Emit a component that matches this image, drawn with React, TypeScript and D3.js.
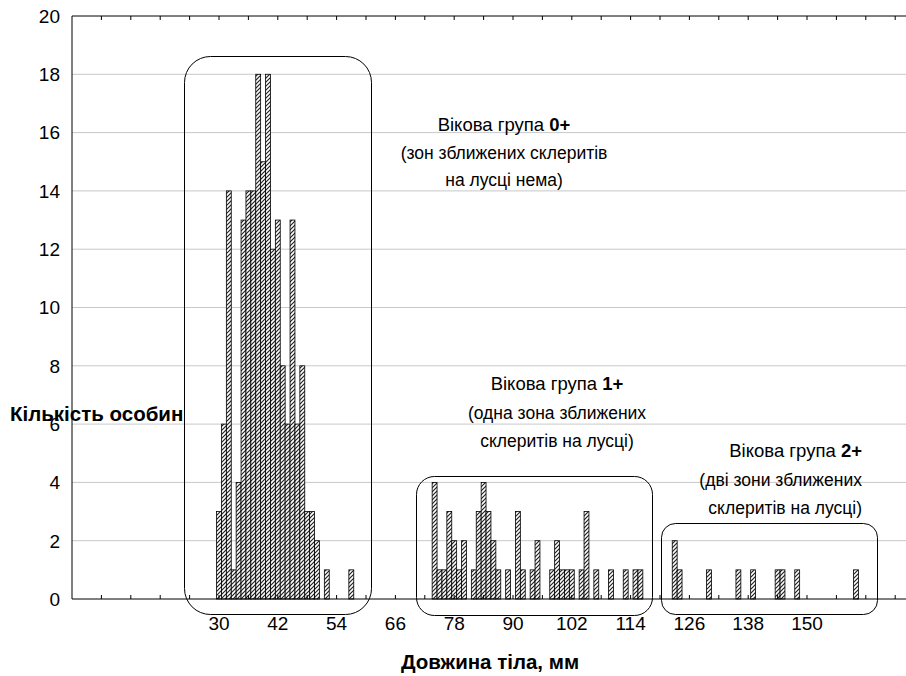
import { useEffect, useRef } from 'react';
import * as d3 from 'd3';

// body length (mm) and number of fish per 1-mm class, by age group
const age0Lengths = [30, 31, 32, 33, 34, 35, 36, 37, 38, 39, 40, 41, 42, 43, 44, 45, 46, 47, 48, 49, 50, 52, 57];
const age0Counts = [3, 6, 14, 1, 4, 13, 14, 14, 18, 15, 18, 12, 13, 8, 6, 13, 6, 8, 3, 3, 2, 1, 1];

const age1Lengths = [74, 75, 76, 77, 78, 79, 80, 82, 83, 84, 85, 86, 87, 89, 91, 92, 94, 95, 98, 99, 100, 101, 102, 104, 105, 107, 110, 113, 115, 116];
const age1Counts = [4, 1, 1, 3, 2, 1, 2, 1, 3, 4, 3, 2, 1, 1, 3, 1, 1, 2, 1, 2, 1, 1, 1, 1, 3, 1, 1, 1, 1, 1];

const age2Lengths = [123, 124, 130, 136, 139, 144, 145, 148, 160];
const age2Counts = [2, 1, 1, 1, 1, 1, 1, 1, 1];

const xTickLabels = [30, 42, 54, 66, 78, 90, 102, 114, 126, 138, 150];
const yTicks = [0, 2, 4, 6, 8, 10, 12, 14, 16, 18, 20];

const W = 906;
const H = 676;
const FONT = '"Liberation Sans", Arial, sans-serif';

export default function App() {
    const svgRef = useRef<SVGSVGElement | null>(null);

    useEffect(() => {
        if (!svgRef.current) return;
        const svg = d3.select(svgRef.current);
        svg.selectAll('*').remove();

        const x = d3.scaleLinear().domain([0, 170]).range([72, 905]);
        const y = d3.scaleLinear().domain([0, 20]).range([599, 16]);

        // hatch pattern for bars
        const defs = svg.append('defs');
        const pat = defs.append('pattern')
            .attr('id', 'hatch')
            .attr('patternUnits', 'userSpaceOnUse')
            .attr('width', 4)
            .attr('height', 4);
        pat.append('rect').attr('width', 4).attr('height', 4).attr('fill', '#fff');
        pat.append('path')
            .attr('d', 'M-1,1 L1,-1 M0,4 L4,0 M3,5 L5,3')
            .attr('stroke', '#222')
            .attr('stroke-width', 1.2);

        // gridlines
        svg.append('g')
            .selectAll('line')
            .data(yTicks.filter(d => d > 0 && d < 20))
            .join('line')
            .attr('x1', x(0))
            .attr('x2', W)
            .attr('y1', d => y(d))
            .attr('y2', d => y(d))
            .attr('stroke', '#c8c8c8')
            .attr('stroke-width', 1);

        // bars
        const bars = [
            ...age0Lengths.map((l, i) => ({ len: l, n: age0Counts[i] })),
            ...age1Lengths.map((l, i) => ({ len: l, n: age1Counts[i] })),
            ...age2Lengths.map((l, i) => ({ len: l, n: age2Counts[i] })),
        ];
        svg.append('g')
            .selectAll('rect')
            .data(bars)
            .join('rect')
            .attr('x', d => x(d.len - 0.5))
            .attr('width', d => x(d.len + 0.5) - x(d.len - 0.5))
            .attr('y', d => y(d.n))
            .attr('height', d => y(0) - y(d.n))
            .attr('fill', 'url(#hatch)')
            .attr('stroke', '#000')
            .attr('stroke-width', 0.8);

        // frame: left axis, bottom axis, top border
        const axisColor = '#000';
        svg.append('line')
            .attr('x1', x(0)).attr('x2', x(0))
            .attr('y1', y(20)).attr('y2', y(0))
            .attr('stroke', axisColor);
        svg.append('line')
            .attr('x1', x(0)).attr('x2', W)
            .attr('y1', y(0)).attr('y2', y(0))
            .attr('stroke', axisColor);
        svg.append('line')
            .attr('x1', x(0)).attr('x2', W)
            .attr('y1', y(20)).attr('y2', y(20))
            .attr('stroke', axisColor);

        const minorTicks = d3.range(6, 170, 6);
        svg.append('g')
            .selectAll('line')
            .data(minorTicks)
            .join('line')
            .attr('x1', d => x(d)).attr('x2', d => x(d))
            .attr('y1', y(0)).attr('y2', y(0) - 4)
            .attr('stroke', axisColor);
        svg.append('g')
            .selectAll('line')
            .data(minorTicks)
            .join('line')
            .attr('x1', d => x(d)).attr('x2', d => x(d))
            .attr('y1', y(20)).attr('y2', y(20) + 4)
            .attr('stroke', axisColor);

        // tick labels
        svg.append('g')
            .selectAll('text')
            .data(xTickLabels)
            .join('text')
            .attr('x', d => x(d))
            .attr('y', 630)
            .attr('text-anchor', 'middle')
            .attr('font-family', FONT)
            .attr('font-size', 19)
            .text(d => d);

        svg.append('g')
            .selectAll('text')
            .data(yTicks)
            .join('text')
            .attr('x', 60)
            .attr('y', d => y(d))
            .attr('dy', '0.36em')
            .attr('text-anchor', 'end')
            .attr('font-family', FONT)
            .attr('font-size', 19)
            .text(d => d);

        // group boxes
        const boxes = [
            { x0: 184.5, x1: 371.5, y0: 56.5, y1: 614.5, r: 26 },
            { x0: 416.5, x1: 652.5, y0: 476.5, y1: 615.5, r: 18 },
            { x0: 661.5, x1: 877.5, y0: 523.5, y1: 614.5, r: 14 },
        ];
        svg.append('g')
            .selectAll('rect')
            .data(boxes)
            .join('rect')
            .attr('x', d => d.x0)
            .attr('y', d => d.y0)
            .attr('width', d => d.x1 - d.x0)
            .attr('height', d => d.y1 - d.y0)
            .attr('rx', d => d.r)
            .attr('fill', 'none')
            .attr('stroke', '#000')
            .attr('stroke-width', 1);

        // annotations
        const notes = [
            { x: 504, y: 131, gap: 27.5, anchor: 'middle', lines: ['(зон зближених склеритів', 'на лусці нема)'], age: '0+' },
            { x: 557, y: 390, gap: 28.5, anchor: 'middle', lines: ['(одна зона зближених', 'склеритів на лусці)'], age: '1+' },
            { x: 862, y: 457, gap: 28.5, anchor: 'end', lines: ['(дві зони зближених', 'склеритів на лусці)'], age: '2+' },
        ];
        notes.forEach(n => {
            const t = svg.append('text')
                .attr('x', n.x)
                .attr('y', n.y)
                .attr('text-anchor', n.anchor)
                .attr('font-family', FONT)
                .attr('font-size', 18.5);
            t.append('tspan').text('Вікова група ');
            t.append('tspan').attr('font-weight', 'bold').text(n.age);
            n.lines.forEach((l, i) => {
                svg.append('text')
                    .attr('x', n.x)
                    .attr('y', n.y + n.gap * (i + 1))
                    .attr('text-anchor', n.anchor)
                    .attr('font-family', FONT)
                    .attr('font-size', 17.5)
                    .text(l);
            });
        });

        // axis titles
        svg.append('text')
            .attr('x', 10)
            .attr('y', 421)
            .attr('font-family', FONT)
            .attr('font-size', 20.5)
            .attr('font-weight', 'bold')
            .text('Кількість особин');
        svg.append('text')
            .attr('x', 490)
            .attr('y', 669)
            .attr('text-anchor', 'middle')
            .attr('font-family', FONT)
            .attr('font-size', 20.5)
            .attr('font-weight', 'bold')
            .text('Довжина тіла, мм');
    }, []);

    return (
        <div style={{ position: 'absolute', left: 0, top: 0, width: W, height: H, background: '#fff' }}>
            <svg ref={svgRef} width={W} height={H} style={{ display: 'block' }} />
        </div>
    );
}
